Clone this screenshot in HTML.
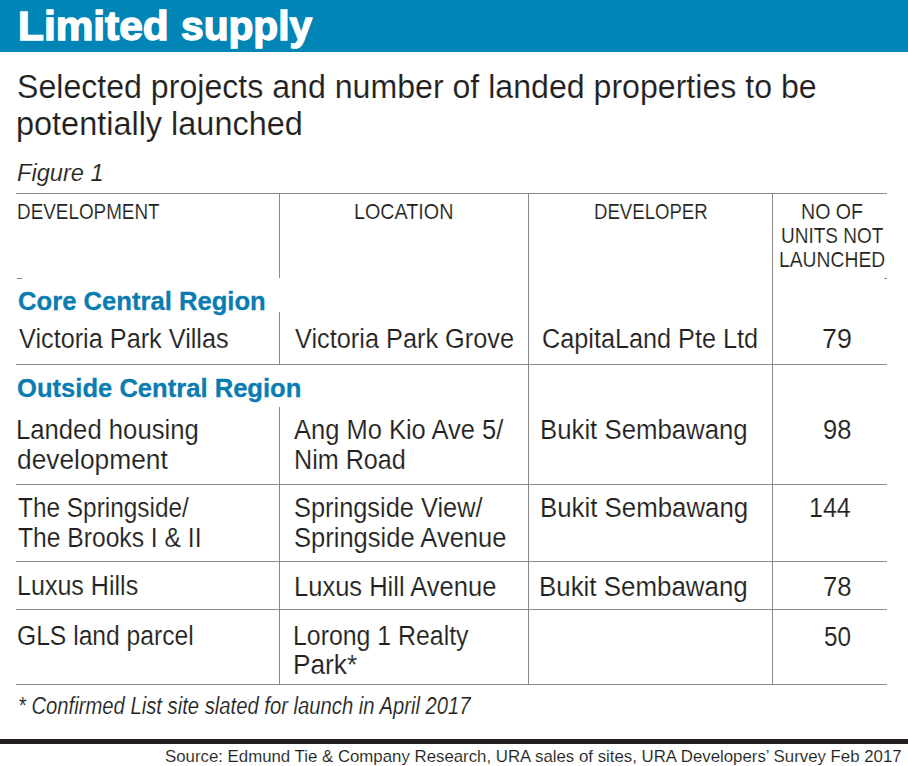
<!DOCTYPE html><html><head><meta charset="utf-8"><title>Limited supply</title><style>

html,body{margin:0;padding:0;}
body{width:908px;height:766px;position:relative;overflow:hidden;background:#fff;font-family:"Liberation Sans",sans-serif;}
.t{position:absolute;white-space:pre;line-height:normal;transform-origin:0 0;}
.b{font-weight:bold;}
.i{font-style:italic;}
.ln{position:absolute;background:#8a8a8a;}

</style></head><body>
<div style="position:absolute;left:0;top:0;width:908px;height:52px;background:#0085b6"></div>
<div style="position:absolute;left:0;top:739px;width:908px;height:5px;background:#231f20"></div>
<div class="ln" style="left:16px;top:193px;width:871px;height:1px;background:#8a8a8a"></div>
<div class="ln" style="left:17px;top:278px;width:5px;height:1px;background:#8a8a8a"></div>
<div class="ln" style="left:884px;top:278px;width:3px;height:1px;background:#8a8a8a"></div>
<div class="ln" style="left:16px;top:364px;width:871px;height:1px;background:#8a8a8a"></div>
<div class="ln" style="left:16px;top:484px;width:871px;height:1px;background:#8a8a8a"></div>
<div class="ln" style="left:16px;top:561px;width:871px;height:1px;background:#8a8a8a"></div>
<div class="ln" style="left:16px;top:609px;width:871px;height:1px;background:#8a8a8a"></div>
<div class="ln" style="left:16px;top:684px;width:871px;height:1px;background:#8a8a8a"></div>
<div class="ln" style="left:279px;top:193px;width:1px;height:85px;background:#8a8a8a"></div>
<div class="ln" style="left:279px;top:312px;width:1px;height:52px;background:#8a8a8a"></div>
<div class="ln" style="left:279px;top:407px;width:1px;height:278px;background:#8a8a8a"></div>
<div class="ln" style="left:528px;top:193px;width:1px;height:492px;background:#8a8a8a"></div>
<div class="ln" style="left:772px;top:193px;width:1px;height:492px;background:#8a8a8a"></div>
<div class="t b" style="left:17.71px;top:4.20px;font-size:40.00px;color:#ffffff;transform:scaleX(1.0595);-webkit-text-stroke:1.4px white;">Limited</div>
<div class="t b" style="left:180.75px;top:4.20px;font-size:40.00px;color:#ffffff;transform:scaleX(1.0171);-webkit-text-stroke:1.4px white;">supply</div>
<div class="t" style="left:16.60px;top:67.20px;font-size:33.70px;color:#231f20;transform:scaleX(0.9531);-webkit-text-stroke:0.15px white;">Selected projects and number of landed properties to be</div>
<div class="t" style="left:16.41px;top:104.00px;font-size:33.70px;color:#231f20;transform:scaleX(0.9631);-webkit-text-stroke:0.15px white;">potentially launched</div>
<div class="t i" style="left:17.18px;top:159.70px;font-size:23.70px;color:#231f20;transform:scaleX(0.9972);-webkit-text-stroke:0.15px white;">Figure 1</div>
<div class="t" style="left:16.76px;top:199.00px;font-size:22.40px;color:#231f20;transform:scaleX(0.8427);-webkit-text-stroke:0.15px white;">DEVELOPMENT</div>
<div class="t" style="left:354.29px;top:199.00px;font-size:22.40px;color:#231f20;transform:scaleX(0.8814);-webkit-text-stroke:0.15px white;">LOCATION</div>
<div class="t" style="left:593.78px;top:199.00px;font-size:22.40px;color:#231f20;transform:scaleX(0.8304);-webkit-text-stroke:0.15px white;">DEVELOPER</div>
<div class="t" style="left:801.00px;top:198.60px;font-size:22.40px;color:#231f20;transform:scaleX(0.8737);-webkit-text-stroke:0.15px white;">NO OF</div>
<div class="t" style="left:781.09px;top:222.70px;font-size:22.40px;color:#231f20;transform:scaleX(0.8483);-webkit-text-stroke:0.15px white;">UNITS NOT</div>
<div class="t" style="left:779.12px;top:246.60px;font-size:22.40px;color:#231f20;transform:scaleX(0.8624);-webkit-text-stroke:0.15px white;">LAUNCHED</div>
<div class="t b" style="left:17.72px;top:285.70px;font-size:26.40px;color:#0a7cb1;transform:scaleX(0.9711);-webkit-text-stroke:0.3px #0a7cb1;">Core Central Region</div>
<div class="t" style="left:18.63px;top:323.60px;font-size:27.00px;color:#231f20;transform:scaleX(0.9356);-webkit-text-stroke:0.15px white;">Victoria Park Villas</div>
<div class="t" style="left:295.03px;top:323.80px;font-size:27.00px;color:#231f20;transform:scaleX(0.9379);-webkit-text-stroke:0.15px white;">Victoria Park Grove</div>
<div class="t" style="left:542.27px;top:323.80px;font-size:27.00px;color:#231f20;transform:scaleX(0.9348);-webkit-text-stroke:0.15px white;">CapitaLand Pte Ltd</div>
<div class="t" style="left:822.38px;top:324.00px;font-size:27.00px;color:#231f20;transform:scaleX(0.9919);-webkit-text-stroke:0.15px white;">79</div>
<div class="t b" style="left:17.42px;top:373.40px;font-size:26.40px;color:#0a7cb1;transform:scaleX(0.9697);-webkit-text-stroke:0.3px #0a7cb1;">Outside Central Region</div>
<div class="t" style="left:16.43px;top:415.40px;font-size:27.00px;color:#231f20;transform:scaleX(0.9510);-webkit-text-stroke:0.15px white;">Landed housing</div>
<div class="t" style="left:17.38px;top:445.10px;font-size:27.00px;color:#231f20;transform:scaleX(0.9753);-webkit-text-stroke:0.15px white;">development</div>
<div class="t" style="left:294.33px;top:415.40px;font-size:27.00px;color:#231f20;transform:scaleX(0.9439);-webkit-text-stroke:0.15px white;">Ang Mo Kio Ave 5/</div>
<div class="t" style="left:293.77px;top:445.20px;font-size:27.00px;color:#231f20;transform:scaleX(0.9318);-webkit-text-stroke:0.15px white;">Nim Road</div>
<div class="t" style="left:540.03px;top:415.20px;font-size:27.00px;color:#231f20;transform:scaleX(0.9543);-webkit-text-stroke:0.15px white;">Bukit Sembawang</div>
<div class="t" style="left:822.78px;top:415.00px;font-size:27.00px;color:#231f20;transform:scaleX(0.9459);-webkit-text-stroke:0.15px white;">98</div>
<div class="t" style="left:17.98px;top:493.40px;font-size:27.00px;color:#231f20;transform:scaleX(0.9034);-webkit-text-stroke:0.15px white;">The Springside/</div>
<div class="t" style="left:17.97px;top:522.70px;font-size:27.00px;color:#231f20;transform:scaleX(0.9127);-webkit-text-stroke:0.15px white;">The Brooks I &amp; II</div>
<div class="t" style="left:293.55px;top:492.70px;font-size:27.00px;color:#231f20;transform:scaleX(0.9400);-webkit-text-stroke:0.15px white;">Springside View/</div>
<div class="t" style="left:293.54px;top:523.10px;font-size:27.00px;color:#231f20;transform:scaleX(0.9457);-webkit-text-stroke:0.15px white;">Springside Avenue</div>
<div class="t" style="left:539.62px;top:493.20px;font-size:27.00px;color:#231f20;transform:scaleX(0.9566);-webkit-text-stroke:0.15px white;">Bukit Sembawang</div>
<div class="t" style="left:809.32px;top:493.30px;font-size:27.00px;color:#231f20;transform:scaleX(0.9256);-webkit-text-stroke:0.15px white;">144</div>
<div class="t" style="left:16.78px;top:571.30px;font-size:27.00px;color:#231f20;transform:scaleX(0.9284);-webkit-text-stroke:0.15px white;">Luxus Hills</div>
<div class="t" style="left:293.74px;top:571.90px;font-size:27.00px;color:#231f20;transform:scaleX(0.9451);-webkit-text-stroke:0.15px white;">Luxus Hill Avenue</div>
<div class="t" style="left:539.32px;top:571.70px;font-size:27.00px;color:#231f20;transform:scaleX(0.9589);-webkit-text-stroke:0.15px white;">Bukit Sembawang</div>
<div class="t" style="left:822.55px;top:571.70px;font-size:27.00px;color:#231f20;transform:scaleX(0.9506);-webkit-text-stroke:0.15px white;">78</div>
<div class="t" style="left:17.22px;top:620.90px;font-size:27.00px;color:#231f20;transform:scaleX(0.9127);-webkit-text-stroke:0.15px white;">GLS land parcel</div>
<div class="t" style="left:293.49px;top:621.30px;font-size:27.00px;color:#231f20;transform:scaleX(0.9206);-webkit-text-stroke:0.15px white;">Lorong 1 Realty</div>
<div class="t" style="left:293.39px;top:650.40px;font-size:27.00px;color:#231f20;transform:scaleX(0.9724);-webkit-text-stroke:0.15px white;">Park*</div>
<div class="t" style="left:823.93px;top:621.50px;font-size:27.00px;color:#231f20;transform:scaleX(0.9017);-webkit-text-stroke:0.15px white;">50</div>
<div class="t i" style="left:18.14px;top:692.70px;font-size:23.00px;color:#231f20;transform:scaleX(0.8799);-webkit-text-stroke:0.15px white;">* Confirmed List site slated for launch in April 2017</div>
<div class="t" style="left:164.66px;top:746.40px;font-size:17.40px;color:#231f20;transform:scaleX(0.9667);-webkit-text-stroke:0.1px white;">Source: Edmund Tie &amp; Company Research, URA sales of sites, URA Developers’ Survey Feb 2017</div>
</body></html>
